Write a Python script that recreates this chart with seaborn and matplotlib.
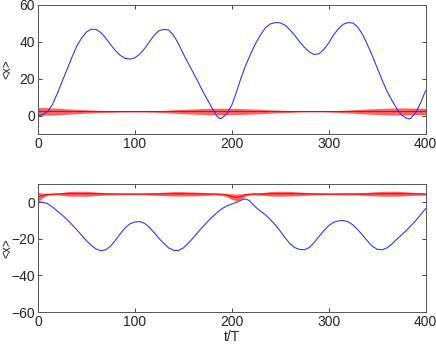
import matplotlib
matplotlib.use("Agg")
import matplotlib.pyplot as plt
import seaborn as sns
import pandas as pd

# --- blue curves ---
t_top = [0, 5, 10, 15, 20, 25, 30, 35, 40, 45, 50, 55, 60, 65, 70, 75, 80, 85, 90, 95,
         100, 105, 110, 115, 120, 125, 130, 135, 140, 145, 150, 155, 160, 165, 170, 175,
         180, 185, 188, 190, 195, 200, 205, 210, 215, 220, 225, 230, 235, 240, 245, 250,
         255, 260, 265, 270, 275, 280, 285, 290, 295, 300, 305, 310, 315, 320, 325, 330,
         335, 340, 345, 350, 355, 360, 365, 370, 375, 380, 383, 385, 390, 395, 400]
x_top = [0, 0.5, 2.2, 6, 12, 18.5, 25, 31.5, 37.5, 42, 45.3, 46.8, 46.7, 45, 42, 38.5,
         35.2, 32.6, 31, 30.6, 31.3, 33.3, 36.3, 40, 43.6, 46, 46.8, 46.3, 43.5, 39, 33.5,
         28.5, 23.5, 18.5, 13.3, 8.5, 3.8, -0.5, -1.7, -1.3, 1, 5.5, 13, 21, 28, 34, 39.5,
         44, 47.7, 49.7, 50.4, 50.3, 49, 46.5, 43.5, 40, 37, 34.5, 33.1, 33.5, 35.8, 39.3,
         43.6, 47, 49.5, 50.4, 50.2, 48, 44, 38.5, 32.5, 26, 19.5, 13.5, 8.5, 4, 0.5, -1.4,
         -1.7, -1.4, 1.8, 7, 13.4]

t_bot = [0, 5, 10, 15, 20, 25, 30, 35, 40, 45, 50, 55, 60, 65, 70, 75, 80, 85, 90, 95,
         100, 105, 110, 115, 120, 125, 130, 135, 140, 145, 150, 155, 160, 165, 170, 175,
         180, 185, 190, 195, 200, 205, 210, 214, 218, 220, 225, 230, 235, 240, 245, 250,
         255, 260, 265, 270, 275, 280, 285, 290, 295, 300, 305, 310, 315, 320, 325, 330,
         335, 340, 345, 350, 355, 360, 365, 370, 375, 380, 385, 390, 395, 400]
x_bot = [0, 0, -0.8, -2.6, -4.8, -7, -9.4, -12.2, -15, -18, -21, -23.6, -25.6, -26.5, -26,
         -24, -20.8, -17.2, -14, -11.8, -10.8, -10.6, -11.5, -13.8, -16.6, -19.8, -22.6,
         -25, -26.3, -26.4, -25, -22.5, -19.6, -16.5, -13.5, -10.6, -8, -5.6, -3.5, -2, -1,
         0, 1.2, 1.8, 1, -0.2, -2.8, -5, -7, -9.6, -12.4, -15.8, -19.4, -22.6, -24.8, -25.8,
         -26, -24.8, -22, -18.8, -15.6, -12.8, -11, -10.2, -10, -10.6, -12.4, -15, -18,
         -21.2, -24, -25.7, -26, -25, -23, -20.4, -18, -15.5, -12.8, -10, -6.8, -3.5]

# --- red bands: envelope of the fast oscillation ---
t_red_top = [0, 10, 20, 30, 40, 50, 60, 70, 80, 90, 100, 110, 120, 130, 140, 150, 160, 170,
             180, 190, 200, 210, 220, 230, 240, 250, 260, 270, 280, 290, 300, 310, 320, 330,
             340, 350, 360, 370, 380, 390, 400]
red_top_lo = [0, 0.2, 0.4, 0.7, 1.0, 1.3, 1.5, 1.7, 1.8, 1.9, 1.9, 1.9, 1.8, 1.6, 1.3, 1.0,
              0.8, 0.6, 0.4, 0.4, 0.5, 0.6, 0.8, 1.0, 1.3, 1.5, 1.7, 1.9, 2.0, 2.0, 1.9, 1.7,
              1.4, 1.1, 0.8, 0.6, 0.4, 0.3, 0.3, 0.4, 0.5]
red_top_hi = [4.4, 4.3, 4.0, 3.7, 3.4, 3.1, 2.9, 2.7, 2.6, 2.5, 2.5, 2.5, 2.6, 2.8, 3.1, 3.4,
              3.6, 3.8, 4.0, 4.0, 3.9, 3.8, 3.6, 3.4, 3.1, 2.9, 2.7, 2.5, 2.4, 2.4, 2.5, 2.7,
              3.0, 3.3, 3.6, 3.8, 4.0, 4.1, 4.1, 4.0, 3.9]

t_red_bot = [0, 5, 10, 20, 30, 40, 50, 60, 70, 80, 90, 100, 110, 120, 130, 140, 150, 160,
             170, 180, 190, 195, 200, 205, 210, 215, 220, 230, 240, 250, 260, 270, 280, 290,
             300, 310, 320, 330, 340, 350, 360, 370, 380, 390, 400]
red_bot_lo = [0, 2.5, 3.8, 4, 3.4, 3.3, 3.3, 3.6, 3.9, 4, 4.1, 4.1, 4, 3.8, 3.6, 3.4, 3.4,
              3.5, 3.6, 4, 3.8, 3, 1.5, 0.8, 1.8, 3.6, 4, 3.8, 3.4, 3.3, 3.4, 3.6, 3.9, 4,
              4.1, 4, 4, 3.9, 3.6, 3.4, 3.3, 3.3, 3.5, 3.8, 3.9]
red_bot_hi = [5.5, 5, 4.8, 5, 5.8, 6, 6, 5.6, 5.2, 5, 4.9, 4.9, 5, 5.2, 5.5, 5.8, 5.8, 5.6,
              5.4, 5, 4.9, 4.8, 4.6, 4.5, 4.6, 4.8, 4.9, 5.2, 5.8, 6, 5.9, 5.6, 5.2, 5, 4.9,
              5, 5, 5.1, 5.4, 5.8, 6, 6, 5.7, 5.3, 5]

sns.set_style("ticks")
plt.rcParams['font.family'] = ['Liberation Sans', 'DejaVu Sans']
plt.rcParams['xtick.direction'] = 'in'
plt.rcParams['ytick.direction'] = 'in'

fig = plt.figure(figsize=(4.36, 3.49), dpi=100)
ax1 = fig.add_axes([0.087, 0.616, 0.889, 0.370])
ax2 = fig.add_axes([0.087, 0.106, 0.889, 0.367])

panels = [
    (ax1, t_top, x_top, t_red_top, red_top_lo, red_top_hi, (-10, 60), [0, 20, 40, 60]),
    (ax2, t_bot, x_bot, t_red_bot, red_bot_lo, red_bot_hi, (-60, 10), [-60, -40, -20, 0]),
]

for ax, tb, xb, tr, lo, hi, ylim, yt in panels:
    red = pd.DataFrame({"t": tr, "lo": lo, "hi": hi})
    red["mid"] = (red["lo"] + red["hi"]) / 2
    ax.fill_between(red["t"], red["lo"], red["hi"], color="#ff2020", alpha=0.7, lw=0)
    sns.lineplot(data=red, x="t", y="mid", ax=ax, color="red", lw=0.8)
    blue = pd.DataFrame({"t": tb, "x": xb})
    sns.lineplot(data=blue, x="t", y="x", ax=ax, color="#2a2aff", lw=0.75)
    ax.set_xlim(0, 400)
    ax.set_ylim(*ylim)
    ax.set_xticks([0, 100, 200, 300, 400])
    ax.set_yticks(yt)
    ax.tick_params(top=True, right=True, length=3, width=0.6, labelsize=10,
                   colors="#262626", pad=2)
    for s in ax.spines.values():
        s.set_visible(True)
        s.set_color("#555555")
        s.set_linewidth(0.7)
    ax.set_ylabel("<x>", fontsize=8.5, color="#262626")
    ax.yaxis.set_label_coords(-0.064, 0.5)
    ax.set_xlabel("")

ax2.set_xlabel("t/T", fontsize=10, color="#262626", labelpad=1)

fig.savefig("out.png", dpi=100)
